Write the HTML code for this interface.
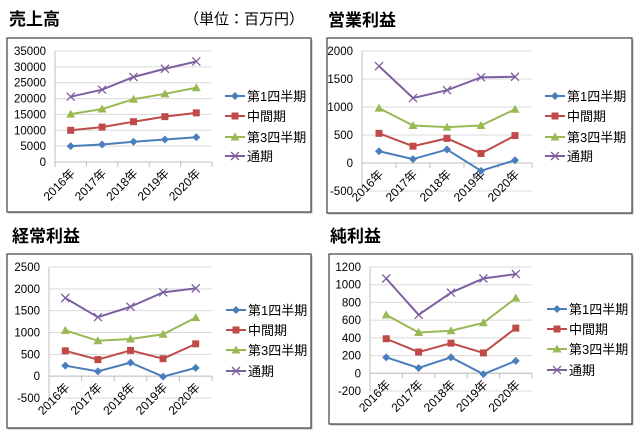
<!DOCTYPE html>
<html><head><meta charset="utf-8">
<style>
html,body{margin:0;padding:0;background:#fff;width:640px;height:442px;overflow:hidden}
svg{display:block;font-family:"Liberation Sans","Noto Sans CJK JP",sans-serif}
</style></head>
<body>
<svg id="s" width="640" height="442" xmlns="http://www.w3.org/2000/svg">
<text x="9" y="25" font-size="17" font-weight="bold" fill="#000">売上高</text>
<text x="184" y="24" font-size="15" fill="#000">（単位：百万円）</text>
<text x="328" y="26" font-size="17" font-weight="bold" fill="#000">営業利益</text>
<text x="12" y="242" font-size="17" font-weight="bold" fill="#000">経常利益</text>
<text x="330" y="242" font-size="17" font-weight="bold" fill="#000">純利益</text>
</svg>
<script>
var s=document.getElementById('s'),NS='http://www.w3.org/2000/svg';
function el(t,a,txt){var e=document.createElementNS(NS,t);for(var k in a)e.setAttribute(k,a[k]);if(txt!=null)e.textContent=txt;s.appendChild(e);return e;}
var cols=['#4A7EBB','#BE4B48','#98B954','#7D60A0'];
var names=['第1四半期','中間期','第3四半期','通期'];
var yrs=['2016年','2017年','2018年','2019年','2020年'];
function chart(c){
 el('rect',{x:c.bx+1.5,y:c.by+1.5,width:c.bw,height:c.bh,fill:'#bbb'});
 el('rect',{x:c.bx,y:c.by,width:c.bw,height:c.bh,fill:'#fff',stroke:'#404040','stroke-width':1.2});
 var n=(c.max-c.min)/c.step;
 function Y(v){return c.ytop+(c.max-v)/(c.max-c.min)*(c.ybot-c.ytop);}
 for(var i=0;i<=n;i++){var v=c.min+i*c.step,y=Y(v);
  el('line',{x1:c.x0,x2:c.x1,y1:y,y2:y,stroke:'#D9D9D9','stroke-width':1});
  el('text',{x:c.x0-9,y:y+4,'font-size':11.5,'text-anchor':'end',fill:'#000'},String(v));}
 var y0=Y(0),w=(c.x1-c.x0)/5;
 el('line',{x1:c.x0,x2:c.x0,y1:c.ytop,y2:c.ybot,stroke:'#BFBFBF'});
 el('line',{x1:c.x0,x2:c.x1,y1:y0,y2:y0,stroke:'#BFBFBF'});
 for(var i=0;i<=5;i++){var x=c.x0+i*w;el('line',{x1:x,x2:x,y1:y0,y2:y0+5,stroke:'#BFBFBF'});}
 for(var i=0;i<5;i++){var x=c.x0+(i+0.5)*w;
  el('text',{x:0,y:0,'font-size':12,'text-anchor':'end',fill:'#000',transform:'translate('+(x+5)+','+(y0+12)+') rotate(-45)'},yrs[i]);}
 for(var k=0;k<4;k++){var pts=[];
  for(var i=0;i<5;i++)pts.push([c.x0+(i+0.5)*w,Y(c.d[k][i])]);
  el('polyline',{points:pts.map(function(p){return p.join(',')}).join(' '),fill:'none',stroke:cols[k],'stroke-width':2});
  pts.forEach(function(p){mk(k,p[0],p[1]);});
  var ly=c.ly[k];
  el('line',{x1:c.lx,x2:c.lx+20,y1:ly,y2:ly,stroke:cols[k],'stroke-width':2});
  mk(k,c.lx+10,ly);
  el('text',{x:c.lx+22,y:ly+5,'font-size':13,fill:'#000'},names[k]);}
}
function mk(k,x,y){
 if(k==0)el('polygon',{points:[x,y-4,x+4,y,x,y+4,x-4,y].join(' '),fill:cols[0]});
 else if(k==1)el('rect',{x:x-3.5,y:y-3.5,width:7,height:7,fill:cols[1]});
 else if(k==2)el('polygon',{points:[x,y-4.5,x+4.5,y+3.5,x-4.5,y+3.5].join(' '),fill:cols[2]});
 else{el('path',{d:'M'+(x-4)+' '+(y-4)+'L'+(x+4)+' '+(y+4)+'M'+(x+4)+' '+(y-4)+'L'+(x-4)+' '+(y+4),stroke:cols[3],'stroke-width':1.3});}
}
chart({bx:7,by:38,bw:304,bh:174,x0:55,x1:212,ytop:51,ybot:162,min:0,max:35000,step:5000,lx:225,ly:[96,116,137,156],
 d:[[5000,5500,6400,7100,7800],[10000,11000,12700,14300,15500],[15100,16700,19800,21500,23400],[20600,22800,26800,29400,31700]]});
chart({bx:327,by:38,bw:305,bh:175,x0:362,x1:532,ytop:51,ybot:191,min:-500,max:2000,step:500,lx:545,ly:[96,116,137,156],
 d:[[210,70,240,-140,50],[530,300,440,170,490],[980,670,640,670,960],[1730,1160,1300,1530,1540]]});
chart({bx:7,by:254,bw:304,bh:174,x0:49,x1:212,ytop:267,ybot:398,min:-500,max:2500,step:500,lx:226,ly:[310,330,350,371],
 d:[[240,110,310,-10,190],[580,380,590,400,740],[1050,810,850,960,1340],[1790,1350,1590,1920,2010]]});
chart({bx:329,by:254,bw:303,bh:170,x0:370,x1:532,ytop:267,ybot:391,min:-200,max:1200,step:200,lx:547,ly:[309,329,349,370],
 d:[[180,60,180,-10,140],[390,240,340,230,510],[660,460,480,570,850],[1070,660,910,1070,1120]]});
</script>
</body></html>
